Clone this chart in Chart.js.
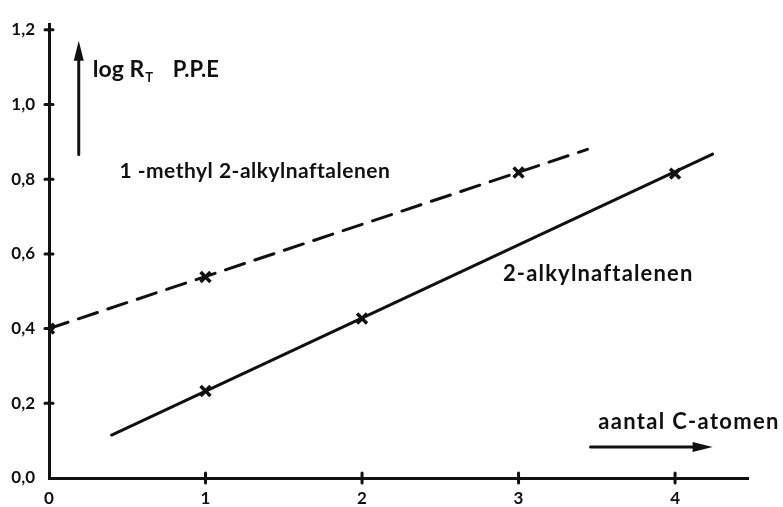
<!DOCTYPE html>
<html>
<head>
<meta charset="utf-8">
<script src="https://cdn.jsdelivr.net/npm/chart.js@4.4.1/dist/chart.umd.min.js"></script>
<style>
  body { margin: 0; background: #fff; }
  #wrap { width: 783px; height: 507px; }
</style>
</head>
<body>
<div id="wrap"><canvas id="chart"></canvas></div>
<script>
// axis ticks
const xTicks = [0, 1, 2, 3, 4];
const xTickLabels = ["0", "1", "2", "3", "4"];
const yTicks = [0, 0.2, 0.4, 0.6, 0.8, 1.0, 1.2];
const yTickLabels = ["0,0", "0,2", "0,4", "0,6", "0,8", "1,0", "1,2"];

// 2-alkylnaftalenen: measured points + drawn line
const alkylC = [1, 2, 4];
const alkylLogRt = [0.233, 0.427, 0.815];
const alkylLineC = [0.40, 4.24];
const alkylLineLogRt = [0.115, 0.867];

// 1-methyl 2-alkylnaftalenen: measured points + drawn line
const methylC = [0, 1, 3];
const methylLogRt = [0.40, 0.538, 0.818];
const methylLineC = [0, 3.44];
const methylLineLogRt = [0.40, 0.88];

const INK = "#111";
const FONT = "Lato, 'DejaVu Sans', sans-serif";

const toPoints = (xs, ys) => xs.map((x, i) => ({ x: x, y: ys[i] }));

const drawArrow = (ctx, x1, y1, x2, y2) => {
  const ang = Math.atan2(y2 - y1, x2 - x1);
  const len = 20, half = 5;
  ctx.beginPath();
  ctx.moveTo(x1, y1);
  ctx.lineTo(x2 - Math.cos(ang) * len * 0.6, y2 - Math.sin(ang) * len * 0.6);
  ctx.stroke();
  ctx.beginPath();
  ctx.moveTo(x2, y2);
  ctx.lineTo(x2 - Math.cos(ang) * len - Math.sin(ang) * half, y2 - Math.sin(ang) * len + Math.cos(ang) * half);
  ctx.lineTo(x2 - Math.cos(ang) * len + Math.sin(ang) * half, y2 - Math.sin(ang) * len - Math.cos(ang) * half);
  ctx.closePath();
  ctx.fill();
};

// spread the letters so the text fills the width of the hand lettering
const fitText = (ctx, text, x, y, width) => {
  ctx.letterSpacing = "0px";
  const w = ctx.measureText(text).width;
  const extra = Math.max(0, (width - w) / (text.length - 1));
  ctx.letterSpacing = extra.toFixed(2) + "px";
  ctx.fillText(text, x, y);
  ctx.letterSpacing = "0px";
};

// ticks crossing the axes, arrows and the hand-written labels
const annotations = {
  id: "annotations",
  afterDraw(chart) {
    const ctx = chart.ctx;
    const xs = chart.scales.x, ys = chart.scales.y;
    const px = (v) => xs.getPixelForValue(v);
    const py = (v) => ys.getPixelForValue(v);
    ctx.save();
    ctx.strokeStyle = INK;
    ctx.fillStyle = INK;
    ctx.lineWidth = 3;
    ctx.lineCap = "round";

    xTicks.slice(1).forEach((v) => {
      ctx.beginPath();
      ctx.moveTo(px(v), py(0) - 5);
      ctx.lineTo(px(v), py(0) + 5);
      ctx.stroke();
    });
    yTicks.slice(1).forEach((v) => {
      ctx.beginPath();
      ctx.moveTo(px(0) - 4, py(v));
      ctx.lineTo(px(0) + 4, py(v));
      ctx.stroke();
    });

    // arrows
    drawArrow(ctx, px(0.19), py(0.866), px(0.19), py(1.171));
    drawArrow(ctx, px(3.46), py(0.083), px(4.24), py(0.083));

    // labels
    ctx.textBaseline = "alphabetic";
    ctx.textAlign = "left";
    ctx.font = "bold 23px " + FONT;
    ctx.fillText("log R", px(0.28), py(1.073));
    const rEnd = px(0.28) + ctx.measureText("log R").width;
    ctx.font = "bold 13px " + FONT;
    ctx.fillText("T", rEnd + 1, py(1.073) + 5);
    ctx.font = "bold 22px " + FONT;
    ctx.fillText("P.P.E", px(0.79), py(1.073));

    ctx.textBaseline = "middle";
    ctx.font = "bold 21px " + FONT;
    fitText(ctx, "1 -methyl 2-alkylnaftalenen", px(0.45), py(0.822), 270);
    ctx.font = "bold 22px " + FONT;
    fitText(ctx, "2-alkylnaftalenen", px(2.90), py(0.546), 189);
    fitText(ctx, "aantal C-atomen", px(3.51), py(0.15), 180);
    ctx.restore();
  },
};

new Chart(document.getElementById("chart"), {
  type: "scatter",
  data: {
    datasets: [
      {
        label: "2-alkylnaftalenen",
        type: "line",
        data: toPoints(alkylLineC, alkylLineLogRt),
        borderColor: INK,
        borderWidth: 3,
        pointRadius: 0,
        borderCapStyle: "round",
      },
      {
        label: "1-methyl 2-alkylnaftalenen",
        type: "line",
        data: toPoints(methylLineC, methylLineLogRt),
        borderColor: INK,
        borderWidth: 3,
        borderDash: [20, 11],
        pointRadius: 0,
        borderCapStyle: "round",
      },
      {
        label: "2-alkylnaftalenen (meting)",
        data: toPoints(alkylC, alkylLogRt),
        pointStyle: "crossRot",
        pointRadius: 7,
        pointBorderWidth: 3.5,
        pointBorderColor: INK,
      },
      {
        label: "1-methyl 2-alkylnaftalenen (meting)",
        data: toPoints(methylC, methylLogRt),
        pointStyle: "crossRot",
        pointRadius: 7,
        pointBorderWidth: 3.5,
        pointBorderColor: INK,
      },
    ],
  },
  options: {
    responsive: true,
    maintainAspectRatio: false,
    animation: false,
    layout: { padding: { top: 8, right: 35, left: 0, bottom: 0 } },
    plugins: {
      legend: { display: false },
      tooltip: { enabled: false },
    },
    scales: {
      x: {
        type: "linear",
        min: 0,
        max: 4.466,
        afterBuildTicks: (s) => { s.ticks = xTicks.map((v) => ({ value: v })); },
        afterFit: (s) => { s.height = 29; },
        grid: { display: false, drawTicks: false },
        border: { display: true, color: INK, width: 3 },
        ticks: {
          color: INK,
          padding: 10,
          font: { family: FONT, size: 17, weight: "bold" },
          callback: (value, index) => xTickLabels[index],
        },
      },
      y: {
        type: "linear",
        min: 0,
        max: 1.215,
        afterBuildTicks: (s) => { s.ticks = yTicks.map((v) => ({ value: v })); },
        afterFit: (s) => { s.width = 49; },
        grid: { display: false, drawTicks: false },
        border: { display: true, color: INK, width: 3 },
        ticks: {
          color: INK,
          padding: 14,
          font: { family: FONT, size: 17, weight: "bold" },
          callback: (value, index) => yTickLabels[index],
        },
      },
    },
  },
  plugins: [annotations],
});
</script>
</body>
</html>
